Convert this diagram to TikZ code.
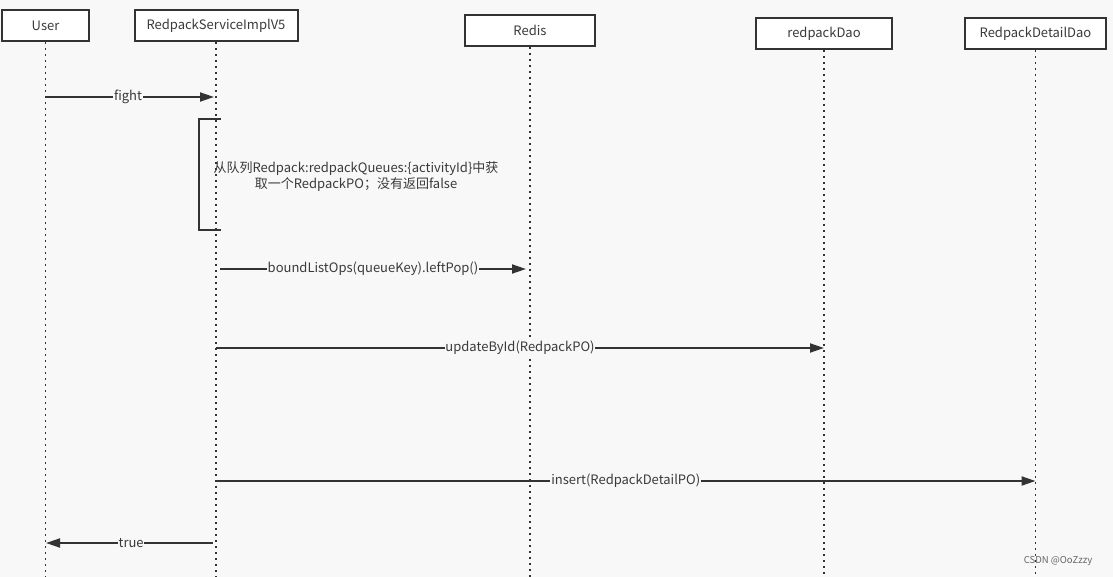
\documentclass[tikz,border=0pt]{standalone}
\usepackage{fontspec}
\setmainfont{Noto Sans CJK SC}
\usetikzlibrary{arrows.meta}
\definecolor{bgc}{HTML}{F8F8F8}
\definecolor{ln}{HTML}{333333}
\definecolor{txt}{HTML}{3A3A3A}
\begin{document}
\begin{tikzpicture}[x=1pt,y=-1pt,
  box/.style={draw=ln,line width=2pt,fill=white,minimum height=31pt,inner sep=0pt,
    font=\fontsize{13}{15}\selectfont,text=txt},
  life/.style={draw=ln,line width=1.5pt,dash pattern=on 1.6pt off 4.4pt},
  msg/.style={draw=ln,line width=1.9pt,-{Triangle[length=14pt,width=9pt]}},
  lbl/.style={fill=bgc,inner sep=0.8pt,font=\fontsize{13}{15}\selectfont,text=txt}]
\fill[bgc] (0,0) rectangle (1113,577);
\useasboundingbox (0,0) rectangle (1113,577);
% participants
\node[box,minimum width=87pt]  (user)  at (45.5,25.5) {User};
\node[box,minimum width=163pt] (svc)   at (216,25.5) {RedpackServiceImplV5};
\node[box,minimum width=130pt] (redis) at (530,30.5) {Redis};
\node[box,minimum width=136pt] (dao)   at (824,33.5) {redpackDao};
\node[box,minimum width=141pt] (ddao)  at (1035.5,33.5) {RedpackDetailDao};
% lifeline ends
\coordinate (userE)  at (45.5,577);
\coordinate (svcE)   at (216,577);
\coordinate (redisE) at (530,577);
\coordinate (daoE)   at (824,577);
\coordinate (ddaoE)  at (1035.5,577);
\draw[life] (user.south)  -- (userE);
\draw[life] (svc.south)   -- (svcE);
\draw[life] (redis.south) -- (redisE);
\draw[life] (dao.south)   -- (daoE);
\draw[life] (ddao.south)  -- (ddaoE);
% message anchors
\coordinate (u1) at (45.5,97);   \coordinate (s1) at (214,97);
\coordinate (s2) at (220,269);   \coordinate (r2) at (526,269);
\coordinate (s3) at (216,348);   \coordinate (d3) at (824,348);
\coordinate (s4) at (216,481);   \coordinate (e4) at (1035.5,481);
\coordinate (s5) at (213,543);   \coordinate (u5) at (46,543);
% activation bracket
\coordinate (bt) at (221,119); \coordinate (bb) at (221,230);
\draw[draw=ln,line width=1.8pt] (bt) -- ++(-22,0) |- (bb);
% messages
\draw[msg] (u1) -- (s1) node[lbl,pos=0.49] {fight};
\draw[msg] (s2) -- (r2) node[lbl,pos=0.5] {boundListOps(queueKey).leftPop()};
\draw[msg] (s3) -- (d3) node[lbl,pos=0.50] {updateById(RedpackPO)};
\draw[msg] (s4) -- (e4) node[lbl,pos=0.50] {insert(RedpackDetailPO)};
\draw[msg] (s5) -- (u5) node[lbl,pos=0.49] {true};
% note
\node[font=\fontsize{13}{16}\selectfont,text=txt,align=center,inner sep=0pt] (note) at (356,177)
  {从队列Redpack:redpackQueues:\{activityId\}中获\\取一个RedpackPO；没有返回false};
% watermark
\node[font=\fontsize{9.5}{11}\selectfont,text=black!60,inner sep=0pt] (wm) at (1058,561) {CSDN @OoZzzy};
\end{tikzpicture}
\end{document}
